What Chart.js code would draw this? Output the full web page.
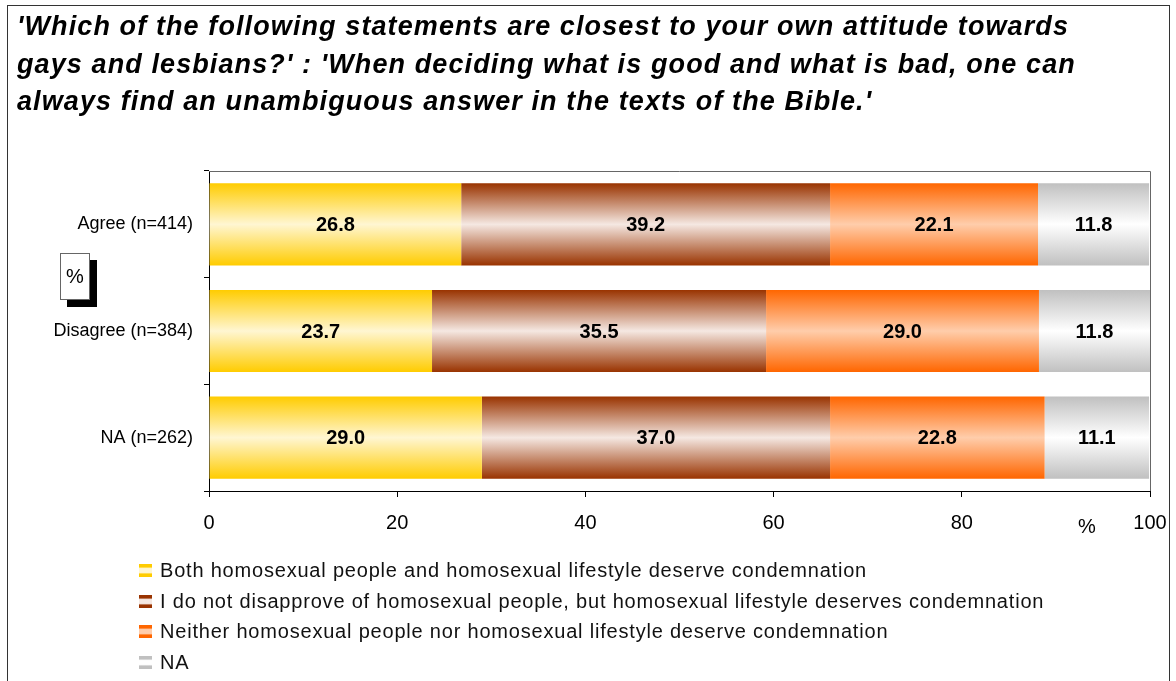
<!DOCTYPE html>
<html>
<head>
<meta charset="utf-8">
<script src="https://cdn.jsdelivr.net/npm/chart.js@4"></script>
<style>
    body { margin: 0; background: #fff; font-family: "Liberation Sans", Arial, sans-serif; }
    #quadro { position: relative; width: 1176px; height: 681px; overflow: hidden; }
    #borda { position: absolute; left: 7px; top: 5px; width: 1161px; height: 700px; border: 1px solid #333; }
    #titulo { position: absolute; left: 17px; top: 8px; font-size: 27px; line-height: 37.5px; letter-spacing: 1.1px; font-weight: bold; font-style: italic; color: #000; white-space: nowrap; }
    #caixa_pct { position: absolute; left: 60px; top: 253px; width: 28px; height: 45px; background: #fff; border: 1px solid #666; box-shadow: 7px 7px 0 #000; font-size: 20px; text-align: center; line-height: 45px; }
    #legenda { position: absolute; left: 139px; top: 555px; font-size: 20px; letter-spacing: 0.8px; color: #111; white-space: nowrap; }
    .item { height: 30.7px; display: flex; align-items: center; }
    .cor { width: 13px; height: 13px; margin-right: 8px; }
    canvas { position: absolute; left: 0; top: 0; }
</style>
</head>
<body>
<div id="quadro">
    <div id="borda"></div>
    <canvas id="grafico" width="1176" height="681"></canvas>
    <div id="titulo">'Which of the following statements are closest to your own attitude towards<br>gays and lesbians?' : 'When deciding what is good and what is bad, one can<br>always find an unambiguous answer in the texts of the Bible.'</div>
    <div id="caixa_pct">%</div>
    <div id="legenda"></div>
</div>
<script>
// categorias e valores (%)
var categorias = ['Agree (n=414)', 'Disagree (n=384)', 'NA (n=262)'];
var series = [
    'Both homosexual people and homosexual lifestyle deserve condemnation',
    'I do not disapprove of homosexual people, but homosexual lifestyle deserves condemnation',
    'Neither homosexual people nor homosexual lifestyle deserve condemnation',
    'NA'
];
var valoresAmbos = [26.8, 23.7, 29.0];
var valoresEstilo = [39.2, 35.5, 37.0];
var valoresNenhum = [22.1, 29.0, 22.8];
var valoresNA = [11.8, 11.8, 11.1];
var ticksX = [0, 20, 40, 60, 80, 100];

// cor da borda da barra e cor do meio
var coresBorda = ['#ffcc00', '#993300', '#ff6600', '#c0c0c0'];
var coresMeio = ['#fff6d2', '#f5e8e2', '#ffcdab', '#ffffff'];

var fracaoBarra = 0.77;

function gradiente(i) {
    return function (ctx) {
        var chart = ctx.chart;
        var escala = chart.scales.y;
        if (!chart.chartArea || !escala) return coresBorda[i];
        var centro = escala.getPixelForValue(ctx.dataIndex);
        var meia = (escala.height / categorias.length) * fracaoBarra / 2;
        var g = chart.ctx.createLinearGradient(0, centro - meia, 0, centro + meia);
        g.addColorStop(0, coresBorda[i]);
        g.addColorStop(0.5, coresMeio[i]);
        g.addColorStop(1, coresBorda[i]);
        return g;
    };
}

var dadosSeries = [valoresAmbos, valoresEstilo, valoresNenhum, valoresNA];

var datasets = [];
for (let i = 0; i < series.length; i++) {
    datasets.push({
        label: series[i],
        data: dadosSeries[i],
        backgroundColor: gradiente(i),
        borderWidth: 0,
        categoryPercentage: 1,
        barPercentage: fracaoBarra
    });
}

// valores escritos no meio de cada segmento
const rotulos = {
    id: 'rotulos',
    afterDatasetsDraw(chart) {
        var ctx = chart.ctx;
        ctx.save();
        ctx.font = 'bold 20px "Liberation Sans", Arial';
        ctx.fillStyle = '#000';
        ctx.textAlign = 'center';
        ctx.textBaseline = 'middle';
        chart.data.datasets.forEach(function (ds, i) {
            chart.getDatasetMeta(i).data.forEach(function (bar, j) {
                ctx.fillText(ds.data[j].toFixed(1), (bar.x + bar.base) / 2, bar.y + 1);
            });
        });
        ctx.restore();
    }
};

// moldura cinza do topo e da direita, e o "%" do eixo x
const moldura = {
    id: 'moldura',
    afterDraw(chart) {
        var a = chart.chartArea;
        var ctx = chart.ctx;
        ctx.save();
        ctx.strokeStyle = '#666';
        ctx.lineWidth = 1;
        ctx.beginPath();
        ctx.moveTo(a.left, a.top + 0.5);
        ctx.lineTo(a.right + 0.5, a.top + 0.5);
        ctx.lineTo(a.right + 0.5, a.bottom);
        ctx.stroke();
        ctx.font = '20px "Liberation Sans", Arial';
        ctx.fillStyle = '#000';
        ctx.textAlign = 'center';
        ctx.textBaseline = 'middle';
        ctx.fillText('%', 1087, 527);
        ctx.restore();
    }
};

new Chart(document.getElementById('grafico'), {
    type: 'bar',
    data: { labels: categorias, datasets: datasets },
    options: {
        indexAxis: 'y',
        responsive: false,
        animation: false,
        layout: { padding: { left: 0, top: 171, right: 26, bottom: 140 } },
        plugins: { legend: { display: false }, tooltip: { enabled: false } },
        scales: {
            x: {
                stacked: true,
                min: 0,
                max: 100,
                afterFit: function (s) { s.height = 50; s.paddingLeft = 0; s.paddingRight = 0; },
                afterBuildTicks: function (s) { s.ticks = ticksX.map(function (v) { return { value: v }; }); },
                grid: { drawOnChartArea: false, drawTicks: true, tickLength: 6, color: '#000' },
                border: { color: '#000' },
                ticks: { color: '#000', padding: 14, font: { size: 20, family: '"Liberation Sans", Arial' } }
            },
            y: {
                stacked: true,
                afterFit: function (s) { s.width = 209; s.paddingTop = 0; s.paddingBottom = 0; },
                grid: { drawOnChartArea: false, drawTicks: true, tickLength: 5, color: '#000', offset: true },
                border: { color: '#000' },
                ticks: { color: '#000', padding: 11, font: { size: 18, family: '"Liberation Sans", Arial' } }
            }
        }
    },
    plugins: [rotulos, moldura]
});

// legenda em html
var legenda = document.getElementById('legenda');
for (let i = 0; i < series.length; i++) {
    var item = document.createElement('div');
    item.className = 'item';
    var cor = document.createElement('div');
    cor.className = 'cor';
    cor.style.background = `linear-gradient(${coresBorda[i]} 0%, ${coresBorda[i]} 22%, ${coresMeio[i]} 35%, ${coresMeio[i]} 65%, ${coresBorda[i]} 78%, ${coresBorda[i]} 100%)`;
    item.appendChild(cor);
    var texto = document.createElement('span');
    texto.innerHTML = series[i];
    item.appendChild(texto);
    legenda.appendChild(item);
}
</script>
</body>
</html>
